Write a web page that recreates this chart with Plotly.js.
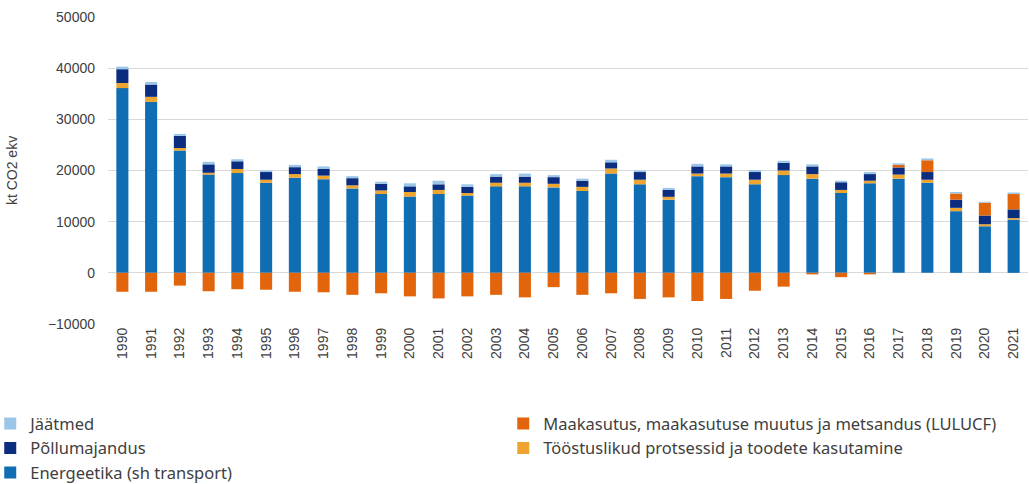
<!DOCTYPE html>
<html>
<head>
<meta charset="utf-8">
<script src="https://cdn.plot.ly/plotly-3.0.1.min.js"></script>
<style>
html,body{margin:0;padding:0;background:#fff;}
#chart{width:1029px;height:484px;}
</style>
</head>
<body>
<div id="chart"></div>
<script>
const years = ['1990','1991','1992','1993','1994','1995','1996','1997','1998','1999','2000','2001','2002','2003','2004','2005','2006','2007','2008','2009','2010','2011','2012','2013','2014','2015','2016','2017','2018','2019','2020','2021'];

const energeetika = [36100,33400,23900,19200,19500,17600,18600,18300,16500,15400,14900,15400,15100,16900,16900,16700,16000,19400,17300,14300,18900,18700,17300,19100,18400,15600,17500,18400,17600,12050,9100,10400];
const toostus = [1000,1000,500,350,800,600,700,700,600,700,900,800,500,700,700,700,800,1000,900,550,500,700,900,900,900,600,500,800,600,650,400,300];
const pollumajandus = [2700,2400,2350,1650,1500,1500,1350,1300,1400,1300,1100,1100,1200,1200,1200,1300,1200,1200,1500,1350,1400,1400,1500,1500,1500,1500,1300,1400,1500,1600,1700,1700];
const lulucf = [-3700,-3700,-2500,-3600,-3200,-3300,-3700,-3800,-4300,-4000,-4600,-5000,-4600,-4300,-4800,-2800,-4300,-4000,-5100,-4800,-5500,-5100,-3500,-2700,-300,-850,-300,500,2300,1200,2500,3000];
const jaatmed = [500,500,400,500,400,300,450,500,400,400,600,700,500,500,600,400,400,500,300,400,500,400,400,400,400,300,400,300,350,300,200,300];

const traces = [
  {name:'Energeetika (sh transport)', y:energeetika, color:'#0f6db4'},
  {name:'Tööstuslikud protsessid ja toodete kasutamine', y:toostus, color:'#eea530'},
  {name:'Põllumajandus', y:pollumajandus, color:'#0b2d80'},
  {name:'Maakasutus, maakasutuse muutus ja metsandus (LULUCF)', y:lulucf, color:'#e2650b'},
  {name:'Jäätmed', y:jaatmed, color:'#9cc6e8'}
].map(t => ({
  type:'bar', x:years, y:t.y, name:t.name,
  marker:{color:t.color, line:{width:0}},
  hoverinfo:'skip'
}));

const layout = {
  width:1029, height:484,
  margin:{l:108, r:1, t:17, b:160, autoexpand:false},
  barmode:'relative',
  bargap:0.58,
  paper_bgcolor:'#fff', plot_bgcolor:'#fff',
  font:{family:'Liberation Sans, Arial, sans-serif', color:'#595959', size:14},
  xaxis:{
    type:'category', tickangle:-90, showgrid:false, zeroline:false, showline:false,
    ticks:'', tickfont:{size:14, color:'#404040'}, automargin:false
  },
  yaxis:{
    range:[-10000,50000], dtick:10000, tick0:0, tickformat:'d',
    gridcolor:'#d9d9d9', gridwidth:1,
    zeroline:true, zerolinecolor:'#d9d9d9', zerolinewidth:1,
    tickfont:{size:14, color:'#404040'}, ticks:'', ticklabelstandoff:12, automargin:false,
    title:{text:'kt CO2 ekv', font:{size:14, color:'#404040'}, standoff:26}
  },
  showlegend:true,
  legend:{
    orientation:'h', traceorder:'reversed',
    x:-0.128, xanchor:'left', y:-0.268, yanchor:'top',
    entrywidth:468, entrywidthmode:'pixels',
    font:{family:'Noto Sans, sans-serif', size:16.5, color:'#404040'},
    itemwidth:30, bgcolor:'rgba(0,0,0,0)'
  }
};

Plotly.newPlot('chart', traces, layout, {displayModeBar:false, staticPlot:true});
</script>
</body>
</html>
